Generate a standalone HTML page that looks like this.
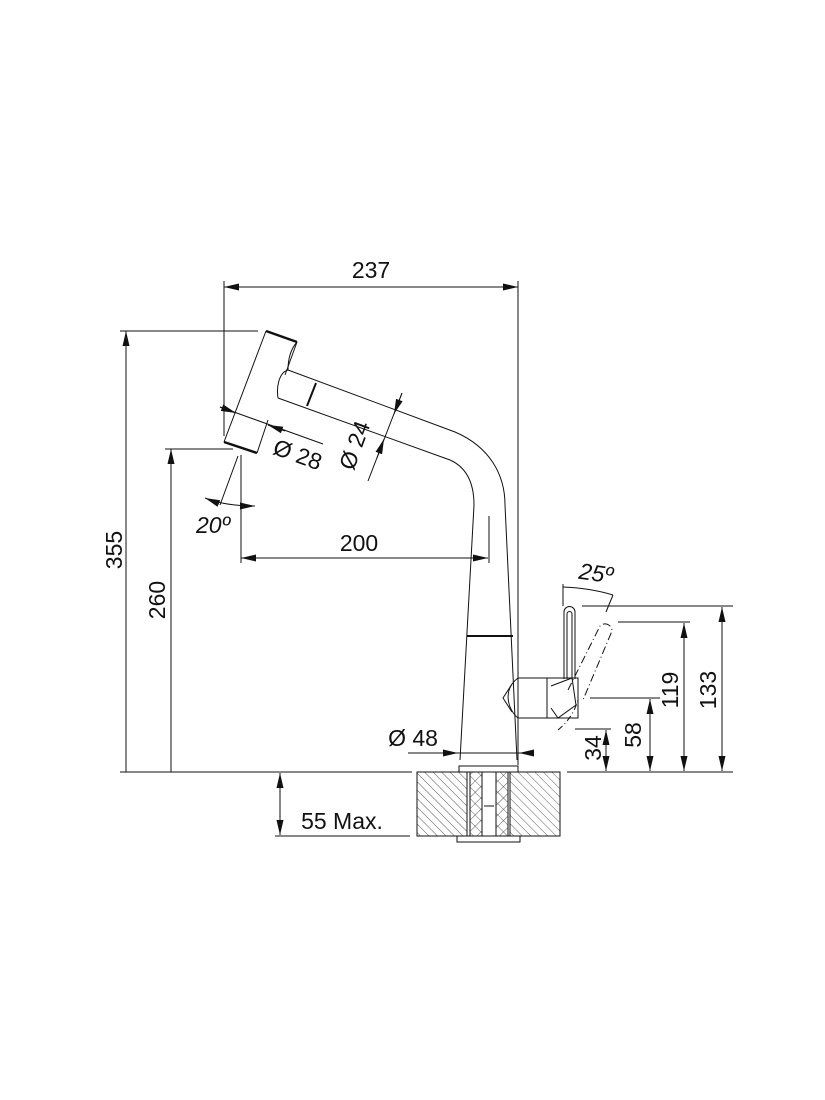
<!DOCTYPE html>
<html><head><style>
html,body{margin:0;padding:0;background:#fff;}
svg{display:block;}
text{font-family:"Liberation Sans",sans-serif;fill:#111;}
</style></head><body>
<svg width="825" height="1100" viewBox="0 0 825 1100" xmlns="http://www.w3.org/2000/svg">
<defs>
<marker id="a" viewBox="0 0 10 10" preserveAspectRatio="none" refX="10" refY="5" markerWidth="15" markerHeight="7" orient="auto-start-reverse" markerUnits="userSpaceOnUse"><path d="M0,0 L10,5 L0,10 z" fill="#111"/></marker>
<pattern id="h" width="6" height="6" patternUnits="userSpaceOnUse" patternTransform="rotate(-45)"><line x1="0" y1="0" x2="0" y2="6" stroke="#333" stroke-width="0.8"/></pattern>
<pattern id="x" width="8" height="8" patternUnits="userSpaceOnUse" patternTransform="rotate(45)"><path d="M0,0 H8 M0,0 V8" stroke="#333" stroke-width="0.8" fill="none"/></pattern>
</defs>
<g stroke="#111" stroke-width="1" fill="none">
<line x1="120" y1="772" x2="412" y2="772"/>
<line x1="567" y1="772" x2="733" y2="772"/>
<line x1="224" y1="287" x2="518" y2="287" marker-start="url(#a)" marker-end="url(#a)"/>
<line x1="224" y1="281" x2="224" y2="436"/>
<line x1="518" y1="281" x2="518" y2="765"/>
<line x1="126" y1="772" x2="126" y2="331" marker-end="url(#a)"/>
<line x1="120" y1="331" x2="258" y2="331"/>
<line x1="171" y1="772" x2="171" y2="449" marker-end="url(#a)"/>
<line x1="165" y1="449" x2="233" y2="449"/>
<path d="M266,331 L224,442 M297,342 L285,375 M257,453 L268,420"/>
<path d="M266,331 L297,342" stroke-width="2.5"/>
<path d="M224,442 L257,453" stroke-width="2.5"/>
<path d="M297,342 C290,350 288,360 288,370 C280,372 276,385 278,398"/>
<path d="M288,370 L455,432 C490,447 505,475 505,505 L517,760"/>
<path d="M278,398 L450,460 C468,468 474,485 474,505 L460,760"/>
<line x1="316" y1="383" x2="307" y2="406" stroke-width="2"/>
<line x1="489" y1="516" x2="489" y2="563"/>
<line x1="467" y1="636" x2="513" y2="636" stroke-width="2"/>
<rect x="459" y="766" width="59" height="6"/>
<line x1="220" y1="407" x2="323" y2="444"/>
<line x1="220" y1="407" x2="236" y2="413" marker-end="url(#a)"/>
<line x1="285" y1="431" x2="268" y2="425" marker-end="url(#a)"/>
<line x1="402" y1="393" x2="368" y2="481"/>
<line x1="402" y1="393" x2="394" y2="414" marker-end="url(#a)"/>
<line x1="377" y1="458" x2="384" y2="439" marker-end="url(#a)"/>
<line x1="241" y1="455" x2="241" y2="563"/>
<line x1="238" y1="456" x2="220" y2="505"/>
<path d="M205,498 Q225,506 255,506" marker-start="url(#a)" marker-end="url(#a)"/>
<line x1="241" y1="558" x2="488" y2="558" marker-start="url(#a)" marker-end="url(#a)"/>
<path d="M564,679 L564,612 A5,5 0 0 1 575,612 L575,679"/>
<path d="M567,679 L567,614 A2,2 0 0 1 572,614 L572,679"/>
<path d="M518,678 L547,678 L547,718 L518,718 C508,710 502,690 518,678 z"/>
<path d="M512,684 L503,698 L512,712"/>
<path d="M547,678 L578,678 L578,718 L547,718 z"/>
<path d="M551,686 L572,678 L576,705 L558,718 L551,708"/>
<path d="M558,730 A60,60 0 0 0 578,700" stroke-dasharray="6,3,1,3"/>
<path d="M568,690 L600,626 A7,7 0 0 1 612,631 L583,700" stroke-dasharray="8,3,1,3"/>
<line x1="563" y1="584" x2="563" y2="606"/>
<path d="M563,587 Q590,588 613,595"/>
<line x1="613" y1="595" x2="606" y2="612"/>
<line x1="582" y1="606" x2="733" y2="606"/>
<line x1="722" y1="607" x2="722" y2="771" marker-start="url(#a)" marker-end="url(#a)"/>
<line x1="618" y1="622" x2="690" y2="622"/>
<line x1="684" y1="623" x2="684" y2="771" marker-start="url(#a)" marker-end="url(#a)"/>
<line x1="590" y1="698" x2="660" y2="698"/>
<line x1="650" y1="699" x2="650" y2="771" marker-start="url(#a)" marker-end="url(#a)"/>
<line x1="575" y1="729" x2="611" y2="729"/>
<line x1="606" y1="730" x2="606" y2="771" marker-start="url(#a)" marker-end="url(#a)"/>
<line x1="408" y1="753" x2="534" y2="753"/>
<line x1="420" y1="753" x2="458" y2="753" marker-end="url(#a)"/>
<line x1="534" y1="753" x2="519" y2="753" marker-end="url(#a)"/>
<rect x="417" y="772" width="50" height="64" fill="url(#h)"/>
<rect x="510" y="772" width="50" height="64" fill="url(#h)"/>
<rect x="470" y="772" width="12" height="64" fill="url(#x)"/>
<rect x="496" y="772" width="12" height="64" fill="url(#x)"/>
<path d="M417,772 V836 H560 V772 M467,772 V836 M470,772 V836 M482,772 V836 M496,772 V836 M508,772 V836 M510,772 V836 M484,806 H494"/>
<rect x="457" y="836" width="63" height="6"/>
<line x1="275" y1="836" x2="410" y2="836"/>
<line x1="280" y1="773" x2="280" y2="835" marker-start="url(#a)" marker-end="url(#a)"/>
</g>
<g font-size="23">
<text x="371" y="278" text-anchor="middle">237</text>
<text x="359" y="551" text-anchor="middle">200</text>
<text transform="translate(122,550) rotate(-90)" text-anchor="middle">355</text>
<text transform="translate(165,600) rotate(-90)" text-anchor="middle">260</text>
<text transform="translate(295,462) rotate(20)" text-anchor="middle">Ø 28</text>
<text transform="translate(362,448) rotate(-70)" text-anchor="middle">Ø 24</text>
<text x="213" y="533" text-anchor="middle" font-style="italic">20º</text>
<text x="595" y="581" text-anchor="middle" font-style="italic" transform="rotate(8,595,580)">25º</text>
<text x="413" y="746" text-anchor="middle">Ø 48</text>
<text x="342" y="829" text-anchor="middle">55 Max.</text>
<text transform="translate(716,690) rotate(-90)" text-anchor="middle">133</text>
<text transform="translate(678,690) rotate(-90)" text-anchor="middle">119</text>
<text transform="translate(641,735) rotate(-90)" text-anchor="middle">58</text>
<text transform="translate(601,748) rotate(-90)" text-anchor="middle">34</text>
</g>
</svg>
</body></html>
